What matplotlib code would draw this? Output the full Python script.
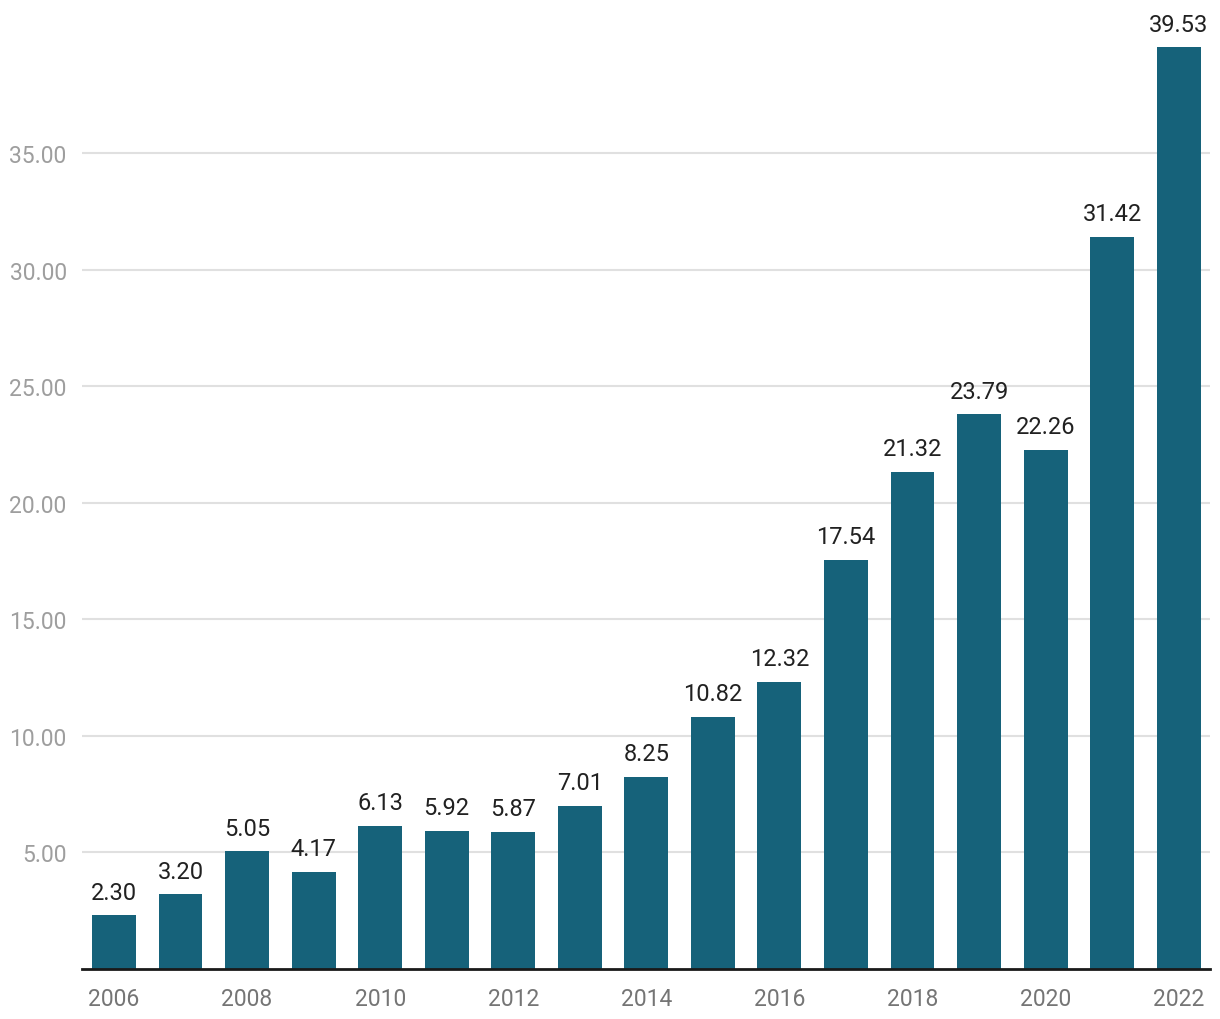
import matplotlib
matplotlib.use("Agg")
import matplotlib.pyplot as plt

years = list(range(2006, 2023))
values = [2.30, 3.20, 5.05, 4.17, 6.13, 5.92, 5.87, 7.01, 8.25, 10.82, 12.32,
          17.54, 21.32, 23.79, 22.26, 31.42, 39.53]
yticks = [5, 10, 15, 20, 25, 30, 35]
xtick_years = [2006, 2008, 2010, 2012, 2014, 2016, 2018, 2020, 2022]

plt.rcParams['font.family'] = ['Roboto', 'DejaVu Sans']

W, H = 1220, 1020
fig = plt.figure(figsize=(W / 100, H / 100), dpi=100)
left, right, bottom, top = 82, 1210, 970, 20
ax = fig.add_axes([left / W, 1 - bottom / H, (right - left) / W, (bottom - top) / H])

x = list(range(len(years)))
ax.bar(x, values, width=0.66, color='#16627a', zorder=2)
for xi, v in zip(x, values):
    ax.text(xi, v + 0.5, f"{v:.2f}", ha='center', va='bottom', fontsize=17, color='#212121')

ax.set_ylim(0, 40.75)
ax.set_xlim(-0.48, len(years) - 0.53)
ax.set_yticks(yticks)
ax.set_yticklabels([f"{t:.2f}" for t in yticks])
ax.set_xticks([years.index(y) for y in xtick_years])
ax.set_xticklabels([str(y) for y in xtick_years])
ax.yaxis.grid(True, color='#e0e0e0', linewidth=1.5, zorder=0)
ax.set_axisbelow(True)
for s in ['top', 'right', 'left']:
    ax.spines[s].set_visible(False)
ax.spines['bottom'].set_color('#1a1a1a')
ax.spines['bottom'].set_linewidth(2)
ax.tick_params(axis='y', length=0, labelsize=16.5, labelcolor='#9e9e9e', pad=11)
ax.tick_params(axis='x', length=0, labelsize=16.5, labelcolor='#757575', pad=13)

fig.savefig('out.png', dpi=100, facecolor='white')
